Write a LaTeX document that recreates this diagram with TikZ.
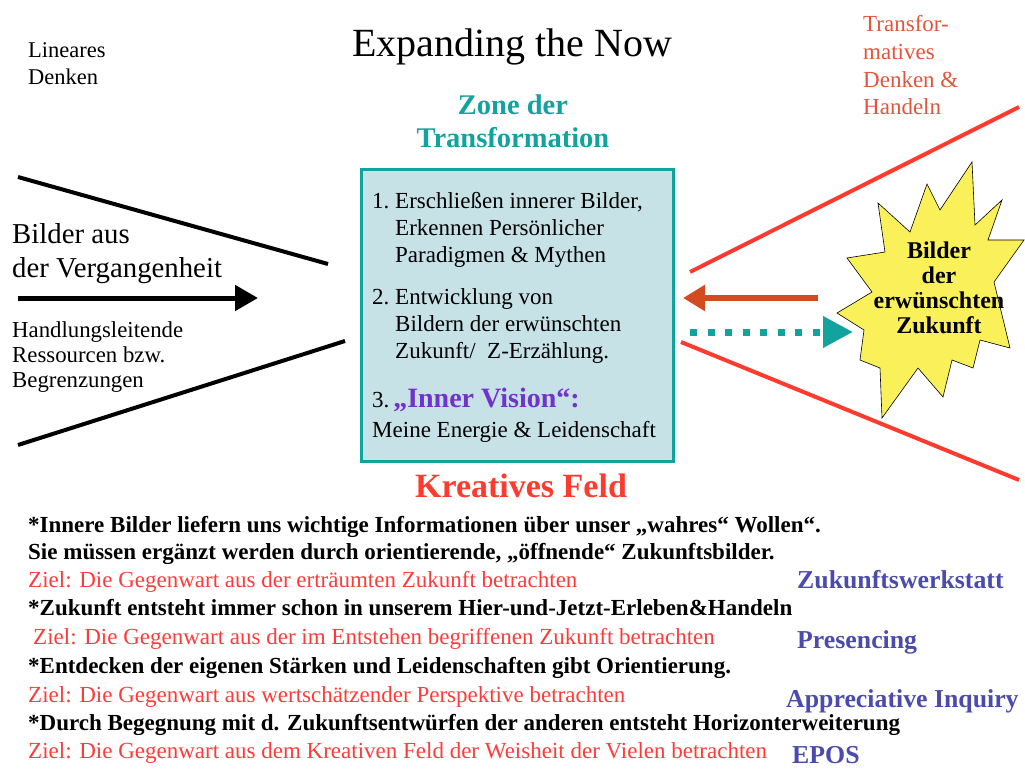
\documentclass[tikz,border=0pt]{standalone}
\usepackage{fontspec}
\setmainfont{Liberation Serif}
\usetikzlibrary{arrows.meta,positioning}

\definecolor{zoneteal}{HTML}{13A39E}
\definecolor{boxfill}{HTML}{C6E2E7}
\definecolor{fieldred}{HTML}{FF3B2F}
\definecolor{transred}{HTML}{E2553A}
\definecolor{backorange}{HTML}{D44A21}
\definecolor{visionpurple}{HTML}{7232CC}
\definecolor{methodblue}{HTML}{4B4BAE}
\definecolor{goalred}{HTML}{FF3A3A}
\definecolor{staryellow}{HTML}{FAF15A}

\newcommand{\boxfont}{\fontsize{23}{27}\selectfont}

\begin{document}
\begin{tikzpicture}[x=1pt,y=-1pt,
    txt/.style={inner sep=0pt, anchor=base west, align=left},
    ctr/.style={inner sep=0pt, anchor=base, align=center},
    boldline/.style={txt, font=\fontsize{23}{28}\selectfont\bfseries},
    goal/.style={txt, text=goalred, font=\fontsize{23}{28}\selectfont},
    method/.style={txt, text=methodblue, font=\fontsize{25.8}{28}\selectfont\bfseries},
    frame/.style={line width=4pt},
  ]

\useasboundingbox (0,0) rectangle (1025,770);

% Headings (multi-line nodes sit on their last baseline)
\node[ctr, font=\fontsize{40}{44}\selectfont] (title) at (512,57) {Expanding the Now};
\node[ctr, text=zoneteal, font=\fontsize{28.5}{33}\selectfont\bfseries] (zone) at (513,148) {Zone der\\Transformation};
\node[txt, font=\fontsize{22.5}{27}\selectfont] (linear) at (28,85) {Lineares\\Denken};
\node[txt, text=transred, font=\fontsize{23}{27.7}\selectfont] (transf) at (863,115) {Transfor-\\matives\\Denken \&\\Handeln};

% Left side: images of the past
\coordinate (past_top_a) at (18,177);
\coordinate (past_top_b) at (328,264);
\coordinate (past_bot_a) at (18,445);
\coordinate (past_bot_b) at (345,341);
\coordinate (past_a) at (18,298);
\coordinate (past_b) at (258,298);
\node[txt, font=\fontsize{28.8}{34}\selectfont] (past) at (12,277) {Bilder aus\\der Vergangenheit};
\node[txt, font=\fontsize{22.8}{25}\selectfont] (res) at (12,387) {Handlungsleitende\\Ressourcen bzw.\\Begrenzungen};

% Zone box with the three steps
\node[draw=zoneteal, fill=boxfill, line width=3pt, minimum width=312, minimum height=292, inner sep=0pt] (zone_box) at (517.5,315.5) {};
\node[txt, font=\boxfont] (step1) at (372,209) {\begin{tabular}[t]{@{}l@{\ }l@{}}1. & Erschließen innerer Bilder,\\ & Erkennen Persönlicher\\ & Paradigmen \& Mythen\end{tabular}};
\node[txt, font=\boxfont] (step2) at (372,304) {\begin{tabular}[t]{@{}l@{\ }l@{}}2. & Entwicklung von\\ & Bildern der erwünschten\\ & Zukunft/~ Z-Erzählung.\end{tabular}};
\node[txt, font=\boxfont] (step3) at (372,407) {3.\,{\fontsize{28}{30}\selectfont\bfseries\color{visionpurple}„Inner Vision“:}};
\node[txt, font=\boxfont] (step3b) at (372,437) {Meine Energie \& Leidenschaft};

\node[ctr, text=fieldred, font=\fontsize{34}{38}\selectfont\bfseries] (field) at (521,497) {Kreatives Feld};

% Right side: images of the wished future
\coordinate (fut_top_a) at (690,272);
\coordinate (fut_top_b) at (1019,107);
\coordinate (fut_bot_a) at (681,342);
\coordinate (fut_bot_b) at (1019,480);
\draw[draw=black, fill=staryellow, line width=0.6pt] (878,203) -- (910,232) -- (927,184) -- (940,210) -- (972,162)
  -- (975,225) -- (1002,200) -- (988,240) -- (1024,240) -- (994,282) -- (1010,348) -- (980,340)
  -- (973,368) -- (952,360) -- (943,397) -- (918,368) -- (882,418) -- (880,368) -- (860,360)
  -- (864,330) -- (837,313) -- (872,292) -- (847,258) -- (885,252) -- cycle;
\node[ctr, font=\fontsize{24}{25}\selectfont\bfseries] (future) at (939,333) {Bilder\\der\\erwünschten\\Zukunft};
\coordinate (back_a) at (818,298);
\coordinate (back_b) at (683,298);
\coordinate (fwd_a) at (690,332);
\coordinate (fwd_b) at (853,332);

% Connect nodes
\draw[frame] (past_top_a) -- (past_top_b);
\draw[frame] (past_bot_a) -- (past_bot_b);
\draw[line width=5pt, -{Triangle[length=23pt, width=25pt]}] (past_a) -- (past_b);
\draw[frame, fieldred] (fut_top_a) -- (fut_top_b);
\draw[frame, fieldred] (fut_bot_a) -- (fut_bot_b);
\draw[line width=6pt, backorange, -{Triangle[length=22pt, width=25pt]}] (back_a) -- (back_b);
\draw[line width=7pt, zoneteal, dash pattern=on 7pt off 10.5pt, -{Triangle[length=30pt, width=30pt]}] (fwd_a) -- (fwd_b);

% Notes below the field
\node[boldline] (note1) at (28,532) {*Innere Bilder liefern uns wichtige Informationen über unser „wahres“ Wollen“.};
\node[boldline] (note1b) at (28,559) {Sie müssen ergänzt werden durch orientierende, „öffnende“ Zukunftsbilder.};
\node[goal] (goal1) at (28,587) {Ziel: Die Gegenwart aus der erträumten Zukunft betrachten};
\node[boldline] (note2) at (28,615) {*Zukunft entsteht immer schon in unserem Hier-und-Jetzt-Erleben\&Handeln};
\node[goal] (goal2) at (33,644) {Ziel: Die Gegenwart aus der im Entstehen begriffenen Zukunft betrachten};
\node[boldline] (note3) at (28,673) {*Entdecken der eigenen Stärken und Leidenschaften gibt Orientierung.};
\node[goal] (goal3) at (28,702) {Ziel: Die Gegenwart aus wertschätzender Perspektive betrachten};
\node[boldline] (note4) at (28,730) {*Durch Begegnung mit d. Zukunftsentwürfen der anderen entsteht Horizonterweiterung};
\node[goal] (goal4) at (28,758) {Ziel: Die Gegenwart aus dem Kreativen Feld der Weisheit der Vielen betrachten};

\node[method] (m1) at (797,588) {Zukunftswerkstatt};
\node[method] (m2) at (797,648) {Presencing};
\node[method] (m3) at (786,707) {Appreciative Inquiry};
\node[method] (m4) at (792,763) {EPOS};

\end{tikzpicture}
\end{document}
